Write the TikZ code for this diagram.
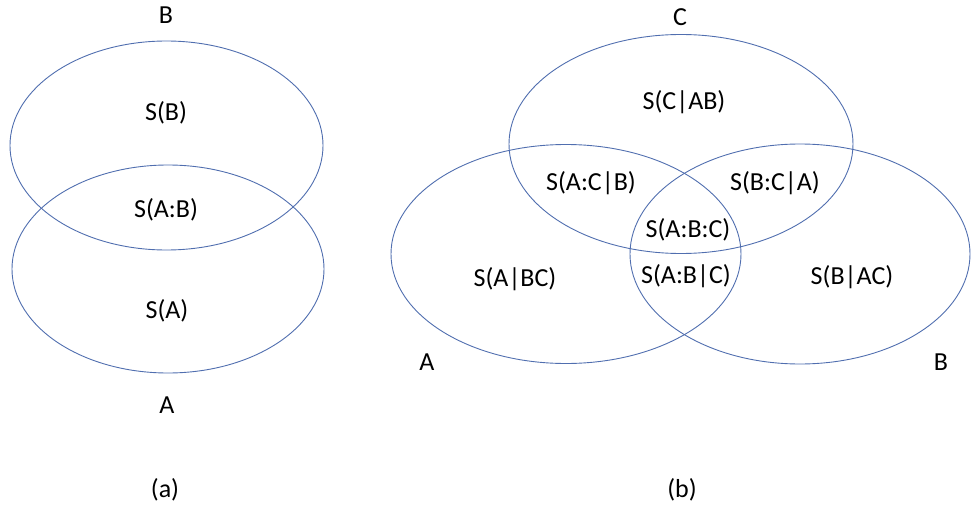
\documentclass[tikz,border=0pt]{standalone}
\usepackage{fontspec}
\setmainfont{Carlito}
\definecolor{ring}{RGB}{80,110,175}
\begin{document}
\begin{tikzpicture}[x=1pt,y=-1pt,
  ring/.style={draw=ring,line width=0.9pt},
  lbl/.style={inner sep=0pt,font=\fontsize{26}{30}\selectfont}]
\useasboundingbox (0,0) rectangle (972,511);
% (a)
\draw[ring] (166.5,145.5) ellipse [x radius=156.5,y radius=104.5];
\draw[ring] (168,269) ellipse [x radius=156,y radius=104];
\node[lbl] (aB) at (166,15) {B};
\node[lbl] (aSB) at (166,113) {S(B)};
\node[lbl] (aSAB) at (166,210) {S(A:B)};
\node[lbl] (aSA) at (167,311) {S(A)};
\node[lbl] (aA) at (167,405) {A};
\node[lbl] (acap) at (165,490) {(a)};
% (b)
\draw[ring] (681,144) ellipse [x radius=172,y radius=109.5];
\draw[ring] (566,254) ellipse [x radius=175,y radius=109.5];
\draw[ring] (800,254) ellipse [x radius=170,y radius=110];
\node[lbl] (bC) at (680,17) {C};
\node[lbl] (bSCAB) at (684,102) {S(C|AB)};
\node[lbl] (bSACB) at (591,183) {S(A:C|B)};
\node[lbl] (bSBCA) at (775,183) {S(B:C|A)};
\node[lbl] (bSABC) at (688,230) {S(A:B:C)};
\node[lbl] (bSABgC) at (686,276) {S(A:B|C)};
\node[lbl] (bSABC2) at (515,279) {S(A|BC)};
\node[lbl] (bSBAC) at (852,277) {S(B|AC)};
\node[lbl] (bA) at (427,362) {A};
\node[lbl] (bB) at (941,362) {B};
\node[lbl] (bcap) at (682,490) {(b)};
\end{tikzpicture}
\end{document}
